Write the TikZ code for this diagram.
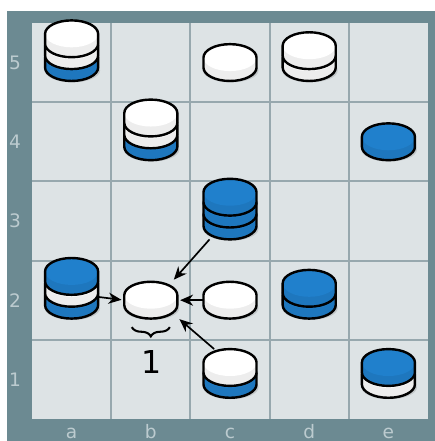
\documentclass[tikz,border=0pt]{standalone}
\usepackage{fontspec}
\setmainfont{DejaVu Sans}
\usetikzlibrary{arrows.meta,decorations.pathreplacing}

\definecolor{framegray}{HTML}{6C8A92}
\definecolor{boardgray}{HTML}{DDE3E5}
\definecolor{gridgray}{HTML}{97A8AE}
\definecolor{labelgray}{HTML}{BCCBCF}
\definecolor{pblue}{HTML}{2080CC}
\definecolor{pwhite}{HTML}{FFFFFF}

\begin{document}
\begin{tikzpicture}[
            x=1.5cm, y=1.5cm,
            rim/.style={draw=black, line width=1.3pt, line join=round},
            stack/.style={rectangle, inner sep=0pt, outer sep=0pt, minimum width=1.005cm},
            conn/.style={-{Stealth[length=7pt,width=6pt]}, line width=0.9pt, shorten >=1.5pt},
            rank/.style={text=labelgray, font=\fontsize{10}{12}\selectfont},
            pics/disc/.style={code={
                \fill[fill=#1!93!black] (-0.335,0) -- (-0.335,-0.125)
                    arc[start angle=180, end angle=360, x radius=0.335, y radius=0.17] -- (0.335,0) -- cycle;
                \fill[fill=#1] (0,0) ellipse[x radius=0.335, y radius=0.17];
                \draw[rim] (0.335,0) arc[start angle=0, end angle=180, x radius=0.335, y radius=0.17]
                    -- (-0.335,-0.125) arc[start angle=180, end angle=360, x radius=0.335, y radius=0.17] -- cycle;
            }}
        ]
            \useasboundingbox (-0.404,-0.278) rectangle (5.088,5.29);

            % Board
            \fill[framegray] (-0.316,-0.278) rectangle (5.088,5.152);
            \fill[boardgray] (0,0) rectangle (5,5);
            \foreach \i in {1,2,3,4} {
                \draw[gridgray, line width=1pt] (\i,0) -- (\i,5);
                \draw[gridgray, line width=1pt] (0,\i) -- (5,\i);
            }

            % Coordinates
            \foreach \i in {1,...,5}
                \node[rank] (r\i) at (-0.215,\i-0.5) {\i};
            \foreach \l [count=\i] in {a,b,c,d,e}
                \node[rank, anchor=base] (f\l) at (\i-0.5,-0.245) {\l};

            % Stacks, bottom disc first
            \foreach \nm/\cx/\cy/\n/\discs in {a5/1/5/3/{pblue,pwhite,pwhite}, b4/2/4/3/{pblue,pwhite,pwhite},
                    c5/3/5/1/{pwhite}, d5/4/5/2/{pwhite,pwhite}, e4/5/4/1/{pblue},
                    c3/3/3/3/{pblue,pblue,pblue}, a2/1/2/3/{pblue,pwhite,pblue}, b2/2/2/1/{pwhite},
                    c2/3/2/1/{pwhite}, d2/4/2/2/{pblue,pblue}, c1/3/1/2/{pblue,pwhite}, e1/5/1/2/{pwhite,pblue}} {
                \fill[black, opacity=0.12] (\cx-0.49, \cy-0.6) ellipse[x radius=0.35, y radius=0.15];
                \foreach \d [count=\k from 0] in \discs
                    \pic at (\cx-0.5, \cy-0.4375+\k*0.15) {disc=\d};
                \node[stack, minimum height=\n*0.225cm+0.4725cm] (\nm) at (\cx-0.5, \cy-0.575+\n*0.075) {};
            }

            % Moves onto b2
            \draw[conn] (a2.-18) -- (b2.west);
            \draw[conn] (c3.236) -- (b2.41);
            \draw[conn] (c2.west) -- (b2.east);
            \draw[conn] (c1.123) -- (b2.-33);

            % Count
            \coordinate (bl) at (1.26,1.16);
            \coordinate (br) at (1.74,1.16);
            \draw[line width=1.1pt, decorate, decoration={brace, mirror, amplitude=5pt}] (bl) -- (br);
            \node[font=\fontsize{17}{20}\selectfont] (cnt) at (1.503,0.72) {1};
        \end{tikzpicture}
\end{document}
